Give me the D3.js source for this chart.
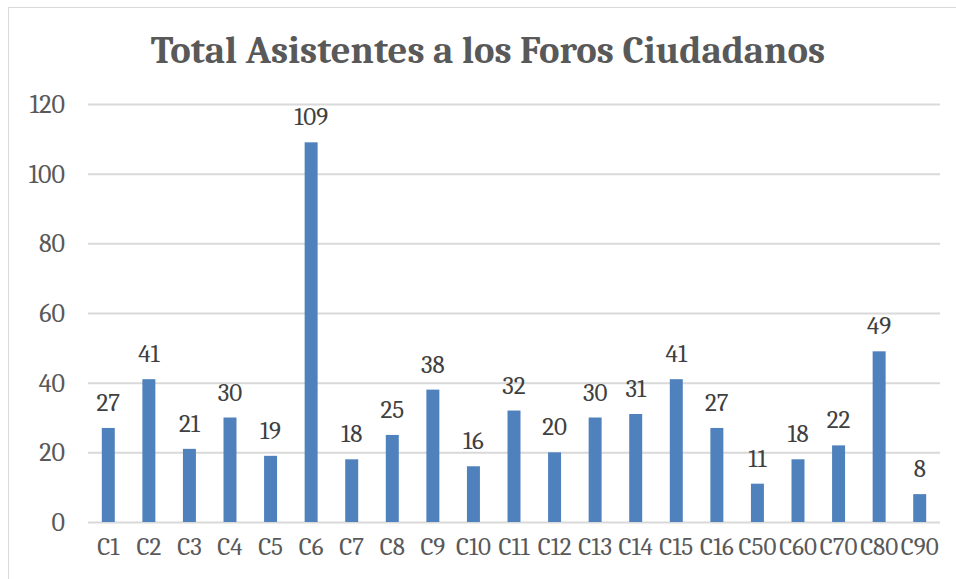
<!DOCTYPE html>
<html>
<head>
<meta charset="utf-8">
<script src="https://cdn.jsdelivr.net/npm/d3@7"></script>
<style>
  html, body { margin: 0; padding: 0; background: #fff; }
  svg { display: block; }
</style>
</head>
<body>
<svg id="chart" width="956" height="579"></svg>
<script>
const categories = ["C1","C2","C3","C4","C5","C6","C7","C8","C9","C10","C11","C12","C13","C14","C15","C16","C50","C60","C70","C80","C90"];
const asistentes = [27,41,21,30,19,109,18,25,38,16,32,20,30,31,41,27,11,18,22,49,8];
const yTicks = [0,20,40,60,80,100,120];
const title = "Total Asistentes a los Foros Ciudadanos";

const svg = d3.select("#chart");
const W = 956, H = 579;
const margin = { left: 88, right: 16, top: 104, bottom: 57 };

// outer chart frame
svg.append("rect")
  .attr("x", 8.5).attr("y", 7.5)
  .attr("width", W + 20).attr("height", H + 20)
  .attr("fill", "#fff").attr("stroke", "#d9d9d9").attr("stroke-width", 1);

const x = d3.scaleBand()
  .domain(categories)
  .range([margin.left, W - margin.right])
  .paddingInner(0.68).paddingOuter(0.34);

const y = d3.scaleLinear()
  .domain([0, 120])
  .range([H - margin.bottom, margin.top]);

const font = "Cambria, Caladea, 'Liberation Serif', 'DejaVu Serif', serif";

// gridlines + y labels
const yAxis = d3.axisLeft(y).tickValues(yTicks).tickSize(-(W - margin.right - margin.left)).tickPadding(23);
const gy = svg.append("g").attr("transform", `translate(${margin.left},0)`).call(yAxis);
gy.select(".domain").remove();
gy.selectAll(".tick line").attr("stroke", "#d9d9d9").attr("stroke-width", 2);
gy.selectAll(".tick text").attr("fill", "#595959").attr("dy", "0.33em")
  .style("font-family", font).style("font-size", "26px");

// bars
svg.append("g").selectAll("rect")
  .data(categories.map((c, i) => ({ c, v: asistentes[i] })))
  .join("rect")
  .attr("x", d => x(d.c))
  .attr("width", x.bandwidth())
  .attr("y", d => y(d.v))
  .attr("height", d => y(0) - y(d.v))
  .attr("fill", "#4f81bd");

// value labels
svg.append("g").selectAll("text")
  .data(categories.map((c, i) => ({ c, v: asistentes[i] })))
  .join("text")
  .attr("x", d => x(d.c) + x.bandwidth() / 2)
  .attr("y", d => y(d.v) - 17)
  .attr("text-anchor", "middle")
  .attr("fill", "#404040")
  .style("font-family", font).style("font-size", "25px")
  .text(d => d.v);

// x axis labels
const xAxis = d3.axisBottom(x).tickSize(0).tickPadding(14);
const gx = svg.append("g").attr("transform", `translate(0,${y(0)})`).call(xAxis);
gx.select(".domain").remove();
gx.selectAll(".tick text").attr("fill", "#595959").attr("dy", null).attr("y", 33)
  .style("font-family", font).style("font-size", "25px");

// title
svg.append("text")
  .attr("x", 488).attr("y", 63)
  .attr("text-anchor", "middle")
  .attr("fill", "#595959")
  .style("font-family", font).style("font-size", "38.7px").style("font-weight", "bold")
  .text(title);
</script>
</body>
</html>
